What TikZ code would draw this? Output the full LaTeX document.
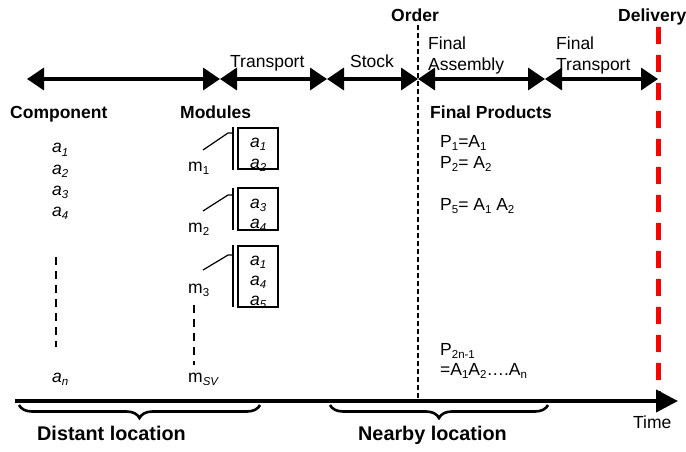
\documentclass[tikz,border=0pt]{standalone}
\usepackage{fontspec}
\setmainfont{Liberation Sans}
\usetikzlibrary{arrows.meta,decorations.pathreplacing}
\newcommand\lowsub[1]{\raisebox{-0.35ex}{\fontsize{11.5}{12}\selectfont #1}}
\newcommand\ai[1]{\textit{a}\lowsub{\textit{#1}}}
\begin{document}
\begin{tikzpicture}[x=1pt,y=-1pt,
  txt/.style={anchor=base west, inner sep=0pt, font=\fontsize{17.5}{20}\selectfont},
  bold/.style={anchor=base west, inner sep=0pt, font=\fontsize{17.5}{20}\selectfont\bfseries},
  bigbold/.style={anchor=base west, inner sep=0pt, font=\fontsize{19.8}{22}\selectfont\bfseries},
  tip/.style={Triangle[length=17pt,width=22pt]},
  seg/.style={line width=3.5pt, {Triangle[length=17pt,width=22pt]}-{Triangle[length=17pt,width=22pt]}},
  dots/.style={line width=2.6pt, dash pattern=on 8pt off 6pt},
  bracket/.style={line width=2.6pt, decorate, decoration={brace, mirror, amplitude=13pt}},
  modbox/.style={draw, line width=1.2pt},
  link/.style={line width=1.2pt}]
\useasboundingbox (0,0) rectangle (686,452);

% milestones
\node[bold, anchor=base] (order) at (415,22) {Order};
\node[bold] (delivery) at (618,22) {Delivery};
\draw[line width=1.8pt, dash pattern=on 5pt off 3pt] (418,25) -- (418,401);
\draw[red, line width=5pt, dash pattern=on 17pt off 11pt] (658,27) -- (658,400);

% phase labels
\node[txt] (ltrans) at (230,67) {Transport};
\node[txt] (lstock) at (350,67) {Stock};
\node[txt] (lfa1) at (428,50) {Final};
\node[txt] (lfa2) at (428,71) {Assembly};
\node[txt] (lft1) at (556,50) {Final};
\node[txt] (lft2) at (556,71) {Transport};

% phase arrows
\coordinate (t0) at (27,79);
\coordinate (t1) at (220,79);
\coordinate (t2) at (327,79);
\coordinate (t3) at (418,79);
\coordinate (t4) at (545,79);
\coordinate (t5) at (658,79);
\draw[seg] (t0) -- (t1);
\draw[seg] (t1) -- (t2);
\draw[seg] (t2) -- (t3);
\draw[seg] (t3) -- (t4);
\draw[seg] (t4) -- (t5);

% column headings
\node[bold] (hcomp) at (10,118) {Component};
\node[bold] (hmod) at (180,118) {Modules};
\node[bold] (hfin) at (430,118) {Final Products};

% components
\node[txt] (a1) at (52,153) {\ai{1}};
\node[txt] (a2) at (52,174) {\ai{2}};
\node[txt] (a3) at (52,195) {\ai{3}};
\node[txt] (a4) at (52,216) {\ai{4}};
\coordinate (ca) at (56,257);
\coordinate (cb) at (56,347);
\draw[dots] (ca) -- (cb);
\node[txt] (an) at (52,382) {\ai{n}};

% modules
\node[txt] (m1) at (188,171) {m\lowsub{1}};
\node[txt] (m2) at (188,232) {m\lowsub{2}};
\node[txt] (m3) at (188,293) {m\lowsub{3}};
\coordinate (ma) at (194,305);
\coordinate (mb) at (194,365);
\draw[dots] (ma) -- (mb);
\node[txt] (msv) at (188,382) {m\lowsub{\textit{SV}}};

% module 1
\draw[modbox] (238,128) rectangle (278,169);
\node[txt] (b11) at (250,147) {\ai{1}};
\node[txt] (b12) at (250,168) {\ai{2}};
\draw[link] (233,127) -- (233,170);
\draw[link] (203,150) -- (228,133) -- (233,133);
% module 2
\draw[modbox] (238,188) rectangle (278,230);
\node[txt] (b21) at (250,208) {\ai{3}};
\node[txt] (b22) at (250,228) {\ai{4}};
\draw[link] (233,188) -- (233,230);
\draw[link] (203,211) -- (228,195) -- (233,195);
% module 3
\draw[modbox] (238,246) rectangle (278,307);
\node[txt] (b31) at (250,265) {\ai{1}};
\node[txt] (b32) at (250,285) {\ai{4}};
\node[txt] (b33) at (250,305) {\ai{5}};
\draw[link] (233,245) -- (233,307);
\draw[link] (203,270) -- (228,255) -- (233,255);

% final products
\node[txt] (p1) at (440,147) {P\lowsub{1}=A\lowsub{1}};
\node[txt] (p2) at (440,168) {P\lowsub{2}= A\lowsub{2}};
\node[txt] (p5) at (440,210) {P\lowsub{5}= A\lowsub{1} A\lowsub{2}};
\node[txt] (pn) at (440,355) {P\lowsub{2n-1}};
\node[txt] (pn2) at (440,375) {=A\lowsub{1}A\lowsub{2}….A\lowsub{n}};

% time axis
\coordinate (ax0) at (15,401);
\coordinate (ax1) at (678,401);
\draw[line width=4pt, -{Triangle[length=22pt,width=22pt]}] (ax0) -- (ax1);
\node[txt] (time) at (633,428) {Time};

% locations
\coordinate (d0) at (19,405);
\coordinate (d1) at (260,405);
\coordinate (n0) at (330,405);
\coordinate (n1) at (548,405);
\draw[bracket] (d0) -- (d1);
\draw[bracket] (n0) -- (n1);
\node[bigbold] (ldist) at (37,440) {Distant location};
\node[bigbold] (lnear) at (358,440) {Nearby location};
\end{tikzpicture}
\end{document}
